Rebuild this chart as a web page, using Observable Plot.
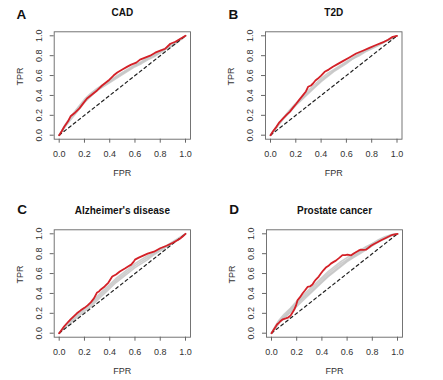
<!DOCTYPE html>
<html><head><meta charset="utf-8">
<script src="https://cdn.jsdelivr.net/npm/d3@7"></script>
<script src="https://cdn.jsdelivr.net/npm/@observablehq/plot@0.6"></script>
<style>
body{margin:0;background:#fff}
#wrap{position:relative;width:443px;height:380px;overflow:hidden;background:#fff}
#wrap svg{position:absolute;overflow:visible}
</style>
</head><body><div id="wrap"></div>
<script>
// ---- data ----
const tickValues = [0, 0.2, 0.4, 0.6, 0.8, 1.0];
const tickLabels = ["0.0", "0.2", "0.4", "0.6", "0.8", "1.0"];
const panelLetters = ["A", "B", "C", "D"];
const panelTitles = ["CAD", "T2D", "Alzheimer's disease", "Prostate cancer"];
const diagonal = [[0, 0], [1, 1]];

const cadRed = [[0,0],[0.02,0.04],[0.04,0.085],[0.07,0.14],[0.09,0.19],[0.12,0.22],[0.16,0.27],[0.19,0.32],[0.22,0.37],[0.26,0.41],[0.30,0.45],[0.34,0.50],[0.39,0.55],[0.43,0.60],[0.46,0.63],[0.50,0.66],[0.54,0.69],[0.57,0.71],[0.61,0.73],[0.64,0.76],[0.68,0.78],[0.72,0.80],[0.76,0.83],[0.80,0.85],[0.84,0.87],[0.88,0.92],[0.92,0.94],[0.96,0.97],[1,1]];
const cadGrey1 = [[0,0],[0.05,0.1],[0.1,0.19],[0.15,0.27],[0.2,0.34],[0.25,0.41],[0.3,0.46],[0.35,0.5],[0.4,0.54],[0.45,0.58],[0.5,0.62],[0.55,0.66],[0.6,0.7],[0.65,0.73],[0.7,0.77],[0.75,0.8],[0.8,0.84],[0.85,0.87],[0.9,0.91],[0.95,0.95],[1,1]];
const cadGrey2 = [[0,0],[0.05,0.09],[0.1,0.17],[0.15,0.25],[0.2,0.33],[0.25,0.39],[0.3,0.45],[0.35,0.49],[0.4,0.53],[0.45,0.57],[0.5,0.61],[0.55,0.65],[0.6,0.69],[0.65,0.72],[0.7,0.76],[0.75,0.79],[0.8,0.83],[0.85,0.87],[0.9,0.9],[0.95,0.95],[1,1]];
const cadGrey3 = [[0,0],[0.05,0.11],[0.1,0.2],[0.15,0.28],[0.2,0.36],[0.25,0.42],[0.3,0.47],[0.35,0.51],[0.4,0.55],[0.45,0.59],[0.5,0.63],[0.55,0.67],[0.6,0.71],[0.65,0.74],[0.7,0.78],[0.75,0.81],[0.8,0.85],[0.85,0.88],[0.9,0.92],[0.95,0.96],[1,1]];

const t2dRed = [[0,0],[0.02,0.04],[0.047,0.084],[0.07,0.13],[0.1,0.17],[0.13,0.21],[0.152,0.235],[0.18,0.28],[0.205,0.319],[0.23,0.36],[0.257,0.403],[0.28,0.44],[0.297,0.487],[0.32,0.50],[0.336,0.52],[0.355,0.55],[0.375,0.57],[0.40,0.60],[0.428,0.638],[0.46,0.66],[0.493,0.688],[0.53,0.715],[0.572,0.745],[0.62,0.78],[0.677,0.822],[0.73,0.85],[0.782,0.879],[0.83,0.905],[0.887,0.933],[0.93,0.96],[0.966,0.99],[1,1]];
const t2dGrey1 = [[0,0],[0.05,0.09],[0.1,0.17],[0.15,0.24],[0.2,0.31],[0.25,0.37],[0.3,0.43],[0.35,0.49],[0.4,0.55],[0.45,0.6],[0.5,0.65],[0.55,0.69],[0.6,0.73],[0.65,0.77],[0.7,0.81],[0.75,0.85],[0.8,0.88],[0.85,0.91],[0.9,0.94],[0.95,0.97],[1,1]];
const t2dGrey2 = [[0,0],[0.05,0.08],[0.1,0.16],[0.15,0.23],[0.2,0.3],[0.25,0.36],[0.3,0.42],[0.35,0.48],[0.4,0.54],[0.45,0.59],[0.5,0.64],[0.55,0.68],[0.6,0.72],[0.65,0.77],[0.7,0.8],[0.75,0.84],[0.8,0.87],[0.85,0.9],[0.9,0.94],[0.95,0.97],[1,1]];
const t2dGrey3 = [[0,0],[0.05,0.09],[0.1,0.17],[0.15,0.25],[0.2,0.32],[0.25,0.38],[0.3,0.45],[0.35,0.51],[0.4,0.57],[0.45,0.62],[0.5,0.66],[0.55,0.7],[0.6,0.74],[0.65,0.78],[0.7,0.82],[0.75,0.85],[0.8,0.88],[0.85,0.91],[0.9,0.94],[0.95,0.97],[1,1]];

const adRed = [[0,0],[0.02,0.035],[0.04,0.07],[0.065,0.105],[0.09,0.14],[0.115,0.17],[0.14,0.2],[0.17,0.23],[0.2,0.255],[0.225,0.28],[0.25,0.31],[0.275,0.35],[0.3,0.41],[0.315,0.42],[0.33,0.44],[0.36,0.47],[0.39,0.51],[0.405,0.54],[0.42,0.57],[0.45,0.59],[0.48,0.62],[0.52,0.65],[0.545,0.67],[0.57,0.69],[0.59,0.72],[0.6,0.74],[0.63,0.76],[0.665,0.78],[0.7,0.8],[0.75,0.82],[0.8,0.855],[0.85,0.88],[0.9,0.91],[0.95,0.945],[0.975,0.97],[1,1]];
const adGrey1 = [[0,0],[0.05,0.07],[0.1,0.13],[0.15,0.19],[0.2,0.24],[0.25,0.29],[0.3,0.35],[0.35,0.41],[0.4,0.47],[0.45,0.53],[0.5,0.58],[0.55,0.63],[0.6,0.68],[0.65,0.72],[0.7,0.76],[0.75,0.8],[0.8,0.84],[0.85,0.87],[0.9,0.91],[0.95,0.95],[1,1]];
const adGrey2 = [[0,0],[0.05,0.06],[0.1,0.12],[0.15,0.17],[0.2,0.22],[0.25,0.27],[0.3,0.33],[0.35,0.39],[0.4,0.45],[0.45,0.51],[0.5,0.56],[0.55,0.61],[0.6,0.66],[0.65,0.7],[0.7,0.74],[0.75,0.79],[0.8,0.83],[0.85,0.87],[0.9,0.91],[0.95,0.95],[1,1]];
const adGrey3 = [[0,0],[0.05,0.08],[0.1,0.14],[0.15,0.2],[0.2,0.25],[0.25,0.3],[0.3,0.37],[0.35,0.43],[0.4,0.49],[0.45,0.55],[0.5,0.6],[0.55,0.65],[0.6,0.7],[0.65,0.74],[0.7,0.78],[0.75,0.81],[0.8,0.85],[0.85,0.88],[0.9,0.92],[0.95,0.96],[1,1]];

const pcRed = [[0,0],[0.02,0.04],[0.034,0.067],[0.045,0.09],[0.056,0.1],[0.07,0.12],[0.09,0.14],[0.114,0.15],[0.135,0.16],[0.153,0.18],[0.168,0.21],[0.18,0.235],[0.195,0.28],[0.206,0.33],[0.225,0.36],[0.246,0.40],[0.265,0.43],[0.286,0.465],[0.305,0.47],[0.325,0.49],[0.34,0.52],[0.352,0.54],[0.375,0.57],[0.392,0.60],[0.41,0.63],[0.431,0.66],[0.45,0.675],[0.471,0.70],[0.49,0.715],[0.511,0.73],[0.54,0.76],[0.563,0.785],[0.585,0.785],[0.603,0.79],[0.63,0.782],[0.65,0.80],[0.669,0.815],[0.69,0.83],[0.709,0.84],[0.73,0.838],[0.749,0.84],[0.77,0.86],[0.79,0.88],[0.81,0.895],[0.841,0.915],[0.87,0.935],[0.907,0.958],[0.935,0.975],[0.96,0.99],[0.98,0.995],[1,1]];
const pcGrey1 = [[0,0],[0.03,0.06],[0.06,0.12],[0.1,0.17],[0.15,0.24],[0.2,0.3],[0.25,0.36],[0.3,0.42],[0.35,0.48],[0.4,0.54],[0.45,0.6],[0.5,0.65],[0.55,0.7],[0.6,0.74],[0.65,0.78],[0.7,0.82],[0.75,0.85],[0.8,0.89],[0.85,0.93],[0.9,0.96],[0.95,0.99],[1,1]];
const pcGrey2 = [[0,0],[0.03,0.05],[0.06,0.1],[0.1,0.15],[0.15,0.21],[0.2,0.27],[0.25,0.33],[0.3,0.39],[0.35,0.45],[0.4,0.51],[0.45,0.57],[0.5,0.62],[0.55,0.67],[0.6,0.72],[0.65,0.76],[0.7,0.8],[0.75,0.84],[0.8,0.88],[0.85,0.92],[0.9,0.95],[0.95,0.98],[1,1]];
const pcGrey3 = [[0,0],[0.03,0.07],[0.06,0.13],[0.1,0.19],[0.15,0.25],[0.2,0.32],[0.25,0.38],[0.3,0.44],[0.35,0.5],[0.4,0.56],[0.45,0.62],[0.5,0.67],[0.55,0.72],[0.6,0.76],[0.65,0.8],[0.7,0.83],[0.75,0.87],[0.8,0.9],[0.85,0.94],[0.9,0.97],[0.95,0.99],[1,1]];
const pcGrey4 = [[0,0],[0.03,0.06],[0.06,0.11],[0.1,0.16],[0.15,0.22],[0.2,0.29],[0.25,0.35],[0.3,0.4],[0.35,0.46],[0.4,0.52],[0.45,0.58],[0.5,0.63],[0.55,0.68],[0.6,0.73],[0.65,0.77],[0.7,0.81],[0.75,0.86],[0.8,0.9],[0.85,0.93],[0.9,0.96],[0.95,0.985],[1,1]];

// ---- layout (panel placement) ----
const panels = [
  {red: cadRed, grey: [cadGrey1, cadGrey2, cadGrey3], left: 0,   top: 0,   w: 222, mL: 53.7, mR: 32,   mT: 31.3, mB: 51.3, ldx: -37.7, ldy: -13},
  {red: t2dRed, grey: [t2dGrey1, t2dGrey2, t2dGrey3], left: 222, top: 0,   w: 221, mL: 43,   mR: 41.5, mT: 31.3, mB: 51.3, ldx: -37,   ldy: -13},
  {red: adRed,  grey: [adGrey1, adGrey2, adGrey3],    left: 0,   top: 190, w: 222, mL: 53.7, mR: 32,   mT: 39.3, mB: 43.3, ldx: -37,   ldy: -16},
  {red: pcRed,  grey: [pcGrey1, pcGrey2, pcGrey3, pcGrey4], left: 222, top: 190, w: 221, mL: 44, mR: 41, mT: 39.3, mB: 43.3, ldx: -37.3, ldy: -16}
];

const rows = (pts, series) => pts.map(([fpr, tpr]) => ({fpr, tpr, series}));
const fmt = d => tickLabels[tickValues.indexOf(d)];
const wrap = document.getElementById("wrap");

panels.forEach((p, k) => {
  const grey = p.grey.flatMap((g, i) => rows(g, "g" + i));
  const svg = Plot.plot({
    width: p.w, height: 190,
    marginLeft: p.mL, marginRight: p.mR, marginTop: p.mT, marginBottom: p.mB,
    insetLeft: 5, insetRight: 5, insetTop: 4, insetBottom: 4,
    x: {domain: [0, 1]}, y: {domain: [0, 1]},
    style: {fontFamily: "'Liberation Sans', Arial, Helvetica, sans-serif", fontSize: "9px", color: "#333", background: "transparent", overflow: "visible"},
    marks: [
      Plot.line(grey, {x: "fpr", y: "tpr", z: "series", stroke: "#c6c6c6", strokeWidth: 1.7, strokeOpacity: 0.85}),
      Plot.line(rows(diagonal, "diag"), {x: "fpr", y: "tpr", stroke: "#222", strokeWidth: 1.2, strokeDasharray: "3,3"}),
      Plot.line(rows(p.red, "red"), {x: "fpr", y: "tpr", stroke: "#d42027", strokeWidth: 1.8}),
      Plot.frame({stroke: "#666", strokeWidth: 0.9}),
      Plot.axisX({ticks: tickValues, tickSize: 4, tickPadding: 7.5, tickFormat: fmt, label: null, stroke: "#666"}),
      Plot.axisY({ticks: tickValues, tickSize: 4, tickFormat: () => "", label: null, stroke: "#666"}),
      Plot.text(tickValues, {y: d => d, text: d => fmt(d), frameAnchor: "left", dx: -15, rotate: -90, textAnchor: "middle", lineAnchor: "middle", fill: "#333"}),
      Plot.text(["FPR"], {text: d => d, frameAnchor: "bottom", dy: 34, lineAnchor: "middle", fill: "#333"}),
      Plot.text(["TPR"], {text: d => d, frameAnchor: "left", dx: -34, rotate: -90, lineAnchor: "middle", fill: "#333"}),
      Plot.text([panelTitles[k]], {text: d => d, frameAnchor: "top", dy: -16, lineAnchor: "bottom", fontWeight: "bold", fontSize: 10, fill: "#111"}),
      Plot.text([panelLetters[k]], {text: d => d, frameAnchor: "top-left", dx: p.ldx, dy: p.ldy, textAnchor: "start", lineAnchor: "bottom", fontWeight: "bold", fontSize: 13.5, fill: "#111"})
    ]
  });
  svg.style.left = p.left + "px";
  svg.style.top = p.top + "px";
  wrap.appendChild(svg);
});
</script>
</body></html>
